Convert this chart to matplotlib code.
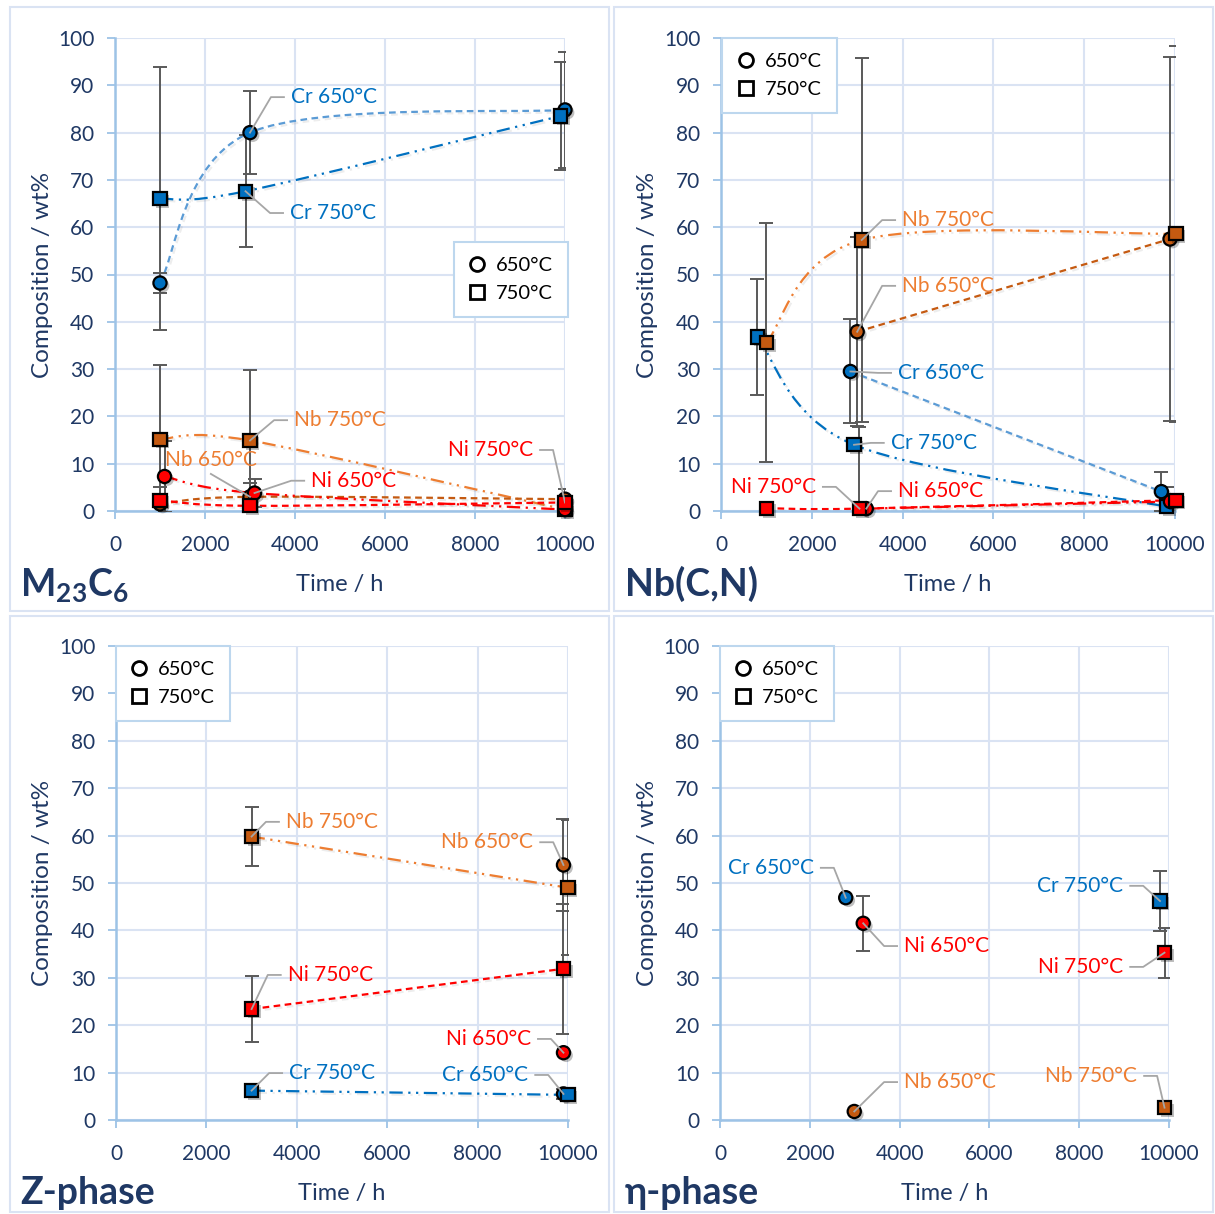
import numpy as np
import matplotlib
matplotlib.use('Agg')
import matplotlib.pyplot as plt
from matplotlib.lines import Line2D
from matplotlib.path import Path
from matplotlib.patches import PathPatch, Rectangle
import matplotlib.patheffects as pe

plt.rcParams['font.family'] = ['Lato', 'DejaVu Sans']
plt.rcParams['mathtext.fontset'] = 'custom'
plt.rcParams['mathtext.rm'] = 'Lato:bold'
plt.rcParams['mathtext.bf'] = 'Lato:bold'
plt.rcParams['mathtext.it'] = 'Lato:bold'

# ---- M23C6 ----
m23_cr650_t = [1000, 3000, 10000]
m23_cr650 = [48.2, 80.0, 84.8]
m23_cr650_err = [2.2, 8.8, 12.2]
m23_cr750_t = [1000, 2900, 9900]
m23_cr750 = [66.0, 67.6, 83.5]
m23_cr750_err = [27.8, 11.8, 11.4]
m23_nb650_t = [1000, 3000, 10000]
m23_nb650 = [1.5, 3.0, 2.5]
m23_nb650_err = [0, 2.9, 0]
m23_nb750_t = [1000, 3000, 10000]
m23_nb750 = [15.2, 14.9, 0.3]
m23_nb750_err = [15.6, 15.0, 0]
m23_ni650_t = [1100, 3100, 10000]
m23_ni650 = [7.3, 3.8, 0.3]
m23_ni650_err = [7.5, 3.0, 0]
m23_ni750_t = [1000, 3000, 10000]
m23_ni750 = [2.3, 1.1, 1.8]
m23_ni750_err = [2.8, 0, 2.8]

# ---- Nb(C,N) ----
nbc_cr650_t = [2850, 9700]
nbc_cr650 = [29.5, 4.1]
nbc_cr650_err = [11.0, 4.1]
nbc_cr750_t = [800, 2930, 9820]
nbc_cr750 = [36.8, 14.0, 0.9]
nbc_cr750_err = [12.3, 0, 4.2]
nbc_nb650_t = [3000, 9890]
nbc_nb650 = [37.9, 57.5]
nbc_nb650_err = [20.0, 38.5]
nbc_nb750_t = [1000, 3100, 10020]
nbc_nb750 = [35.6, 57.3, 58.6]
nbc_nb750_err = [25.3, 38.4, 39.8]
nbc_ni650_t = [3200, 9900]
nbc_ni650 = [0.5, 2.0]
nbc_ni650_err = [0, 0]
nbc_ni750_t = [1000, 3050, 10020]
nbc_ni750 = [0.6, 0.5, 2.3]
nbc_ni750_err = [0, 17.3, 0]

# ---- Z-phase ----
z_cr650_t = [9900]
z_cr650 = [5.5]
z_cr650_err = [1.0]
z_cr750_t = [3000, 10000]
z_cr750 = [6.2, 5.3]
z_cr750_err = [0, 0]
z_nb650_t = [9900]
z_nb650 = [53.8]
z_nb650_err = [9.7]
z_nb750_t = [3000, 10000]
z_nb750 = [59.8, 49.0]
z_nb750_err = [6.2, 14.2]
z_ni650_t = [9900]
z_ni650 = [14.2]
z_ni650_err = [0]
z_ni750_t = [3000, 9900]
z_ni750 = [23.4, 31.9]
z_ni750_err = [7.0, 13.7]

# ---- eta-phase ----
e_cr650_t = [2800]
e_cr650 = [46.9]
e_cr650_err = [0]
e_cr750_t = [9800]
e_cr750 = [46.2]
e_cr750_err = [6.4]
e_nb650_t = [2990]
e_nb650 = [1.8]
e_nb650_err = [0]
e_nb750_t = [9900]
e_nb750 = [2.6]
e_nb750_err = [0]
e_ni650_t = [3190]
e_ni650 = [41.5]
e_ni650_err = [5.8]
e_ni750_t = [9900]
e_ni750 = [35.3]
e_ni750_err = [5.3]

CR = '#0070C0'
CR_L = '#5B9BD5'
NB = '#C55A11'
NB_L = '#ED7D31'
NI = '#FF0000'
NAVY = '#1F3864'
GRID = '#DAE3F3'
SPINE = '#9DC3E6'
ERR = '#595959'
LEAD = '#A6A6A6'

DASH = (0, (3, 2))
DADODO = (0, (6, 2.5, 1, 2.5, 1, 2.5))

# style per series: marker, face colour, line colour, line style
STY = {
    'cr650': ('o', CR, CR_L, DASH),
    'cr750': ('s', CR, CR, DADODO),
    'nb650': ('o', NB, NB, DASH),
    'nb750': ('s', NB, NB_L, DADODO),
    'ni650': ('o', NI, NI, DADODO),
    'ni750': ('s', NI, NI, DASH),
}

W, H = 1215, 1214
fig = plt.figure(figsize=(W / 100, H / 100), dpi=100)
fig.patch.set_facecolor('white')


def px_axes(l, r, t, b):
    return fig.add_axes([l / W, 1 - b / H, (r - l) / W, (b - t) / H])


def smooth_path(ax, xs, ys):
    pts = ax.transData.transform(np.column_stack([xs, ys]))
    n = len(pts)
    verts = [pts[0]]
    codes = [Path.MOVETO]
    for i in range(n - 1):
        p0 = pts[i - 1] if i > 0 else pts[i]
        p1 = pts[i]
        p2 = pts[i + 1]
        p3 = pts[i + 2] if i + 2 < n else pts[i + 1]
        verts += [p1 + (p2 - p0) / 6, p2 - (p3 - p1) / 6, p2]
        codes += [Path.CURVE4] * 3
    verts = ax.transData.inverted().transform(np.array(verts))
    return Path(verts, codes)


def setup(ax):
    ax.set_xlim(0, 10000)
    ax.set_ylim(0, 100)
    ax.set_xticks(range(0, 10001, 2000))
    ax.set_yticks(range(0, 101, 10))
    ax.grid(True, color=GRID, lw=1.5, zorder=0)
    ax.set_axisbelow(True)
    for s in ['top', 'right']:
        ax.spines[s].set_visible(False)
    for s in ['left', 'bottom']:
        ax.spines[s].set_color(SPINE)
        ax.spines[s].set_linewidth(1.8)
    ax.tick_params(direction='out', length=6, width=1.3, color=SPINE,
                   labelcolor=NAVY, labelsize=15, pad=9)
    ax.tick_params(axis='x', pad=11)
    ax.text(0.5, -0.156, 'Time / h', transform=ax.transAxes, ha='center',
            va='center', fontsize=17, color=NAVY)
    ax.text(-0.162, 0.5, 'Composition / wt%', transform=ax.transAxes,
            ha='center', va='center', rotation=90, fontsize=17.5, color=NAVY)


def draw_series(ax, series):
    shadow_l = [pe.SimpleLineShadow(offset=(1.5, -1.5), shadow_color='k', alpha=0.07), pe.Normal()]
    shadow_m = [pe.SimplePatchShadow(offset=(2, -2), shadow_rgbFace='k', alpha=0.25), pe.Normal()]
    for key, t, y, err in series:
        mk, fc, lc, ls = STY[key]
        if len(t) > 1:
            ax.add_patch(PathPatch(smooth_path(ax, t, y), fill=False, edgecolor=lc,
                                   lw=1.6, linestyle=ls, zorder=2, path_effects=shadow_l))
        ax.errorbar(t, y, yerr=err, fmt='none', ecolor=ERR, elinewidth=1.4,
                    capsize=5, capthick=1.4, zorder=3)
    for key, t, y, err in series:
        mk, fc, lc, ls = STY[key]
        ax.plot(t, y, ls='none', marker=mk, ms=9.5, mfc=fc, mec='black', mew=1.6,
                zorder=4, clip_on=False, path_effects=shadow_m)


def draw_labels(ax, labels):
    inv = ax.transData.inverted()
    for txt, col, tx, ty, ha, x, y in labels:
        ax.text(tx, ty, txt, color=col, fontsize=15, ha=ha, va='center', zorder=6)
        X, Y = ax.transData.transform((tx, ty))
        if ha == 'left':
            a, b = (X - 7, Y), (X - 20, Y)
        elif ha == 'right':
            a, b = (X + 7, Y), (X + 20, Y)
        else:
            a = b = (X, Y - 14)
        pts = inv.transform([a, b, ax.transData.transform((x, y))])
        ax.plot(pts[:, 0], pts[:, 1], color=LEAD, lw=1.3, zorder=5)


def legend(ax, x, y):
    h = [Line2D([], [], ls='none', marker='o', ms=10, mfc='white', mec='black', mew=2),
         Line2D([], [], ls='none', marker='s', ms=10, mfc='white', mec='black', mew=2)]
    lg = ax.legend(h, ['650°C', '750°C'], loc='upper left', bbox_to_anchor=(x, y),
                   borderaxespad=0, fontsize=14.5, handlelength=0.8, handletextpad=0.55,
                   borderpad=0.75, labelspacing=0.55, fancybox=False, framealpha=1)
    lg.get_frame().set_edgecolor('#BDD7EE')
    lg.get_frame().set_linewidth(1.5)
    lg.set_zorder(7)


# panel frames
for l, t, r, b in [(10, 7, 609, 611), (614, 7, 1213, 611), (10, 616, 609, 1212), (614, 616, 1213, 1212)]:
    fig.add_artist(Rectangle((l / W, 1 - b / H), (r - l) / W, (b - t) / H,
                             transform=fig.transFigure, fill=False, ec=GRID, lw=1.5))

# ---- panel 1: M23C6 ----
ax1 = px_axes(115, 565, 38, 511)
setup(ax1)
draw_series(ax1, [
    ('cr650', m23_cr650_t, m23_cr650, m23_cr650_err),
    ('cr750', m23_cr750_t, m23_cr750, m23_cr750_err),
    ('nb750', m23_nb750_t, m23_nb750, m23_nb750_err),
    ('nb650', m23_nb650_t, m23_nb650, m23_nb650_err),
    ('ni650', m23_ni650_t, m23_ni650, m23_ni650_err),
    ('ni750', m23_ni750_t, m23_ni750, m23_ni750_err),
])
draw_labels(ax1, [
    ('Cr 650°C', CR, 3910, 87.5, 'left', m23_cr650_t[1], m23_cr650[1]),
    ('Cr 750°C', CR, 3890, 63.0, 'left', m23_cr750_t[1], m23_cr750[1]),
    ('Nb 750°C', NB_L, 3980, 19.2, 'left', m23_nb750_t[1], m23_nb750[1]),
    ('Nb 650°C', NB_L, 2130, 10.8, 'center', m23_nb650_t[1], m23_nb650[1]),
    ('Ni 650°C', NI, 4360, 6.4, 'left', m23_ni650_t[1], m23_ni650[1]),
    ('Ni 750°C', NI, 9290, 12.9, 'right', m23_ni750_t[2], m23_ni750[2]),
])
legend(ax1, 0.753, 0.569)
fig.text(20 / W, 1 - 596 / H, r'$\mathbf{M_{23}C_6}$', fontsize=27, color=NAVY, va='baseline')

# ---- panel 2: Nb(C,N) ----
ax2 = px_axes(721, 1175, 38, 511)
setup(ax2)
draw_series(ax2, [
    ('cr650', nbc_cr650_t, nbc_cr650, nbc_cr650_err),
    ('cr750', nbc_cr750_t, nbc_cr750, nbc_cr750_err),
    ('nb650', nbc_nb650_t, nbc_nb650, nbc_nb650_err),
    ('nb750', nbc_nb750_t, nbc_nb750, nbc_nb750_err),
    ('ni650', nbc_ni650_t, nbc_ni650, nbc_ni650_err),
    ('ni750', nbc_ni750_t, nbc_ni750, nbc_ni750_err),
])
draw_labels(ax2, [
    ('Nb 750°C', NB_L, 3990, 61.5, 'left', nbc_nb750_t[1], nbc_nb750[1]),
    ('Nb 650°C', NB_L, 3990, 47.6, 'left', nbc_nb650_t[0], nbc_nb650[0]),
    ('Cr 650°C', CR, 3900, 29.2, 'left', nbc_cr650_t[0], nbc_cr650[0]),
    ('Cr 750°C', CR, 3740, 14.4, 'left', nbc_cr750_t[1], nbc_cr750[1]),
    ('Ni 750°C', NI, 2090, 5.1, 'right', nbc_ni750_t[1], nbc_ni750[1]),
    ('Ni 650°C', NI, 3900, 4.2, 'left', nbc_ni650_t[0], nbc_ni650[0]),
])
legend(ax2, 0.003, 1.0)
fig.text(625 / W, 1 - 596 / H, 'Nb(C,N)', fontsize=27, fontweight='bold', color=NAVY, va='baseline')

# ---- panel 3: Z-phase ----
ax3 = px_axes(116, 568, 646, 1120)
setup(ax3)
draw_series(ax3, [
    ('nb750', z_nb750_t, z_nb750, z_nb750_err),
    ('nb650', z_nb650_t, z_nb650, z_nb650_err),
    ('ni750', z_ni750_t, z_ni750, z_ni750_err),
    ('ni650', z_ni650_t, z_ni650, z_ni650_err),
    ('cr650', z_cr650_t, z_cr650, z_cr650_err),
    ('cr750', z_cr750_t, z_cr750, z_cr750_err),
])
draw_labels(ax3, [
    ('Nb 750°C', NB_L, 3760, 62.9, 'left', z_nb750_t[0], z_nb750[0]),
    ('Nb 650°C', NB_L, 9230, 58.6, 'right', z_nb650_t[0], z_nb650[0]),
    ('Ni 750°C', NI, 3800, 30.6, 'left', z_ni750_t[0], z_ni750[0]),
    ('Ni 650°C', NI, 9180, 17.1, 'right', z_ni650_t[0], z_ni650[0]),
    ('Cr 750°C', CR, 3830, 9.9, 'left', z_cr750_t[0], z_cr750[0]),
    ('Cr 650°C', CR, 9120, 9.5, 'right', z_cr650_t[0], z_cr650[0]),
])
legend(ax3, 0.0, 1.0)
fig.text(20 / W, 1 - 1204 / H, 'Z-phase', fontsize=27, fontweight='bold', color=NAVY, va='baseline')

# ---- panel 4: eta-phase ----
ax4 = px_axes(720, 1169, 646, 1120)
setup(ax4)
draw_series(ax4, [
    ('cr650', e_cr650_t, e_cr650, e_cr650_err),
    ('ni650', e_ni650_t, e_ni650, e_ni650_err),
    ('nb650', e_nb650_t, e_nb650, e_nb650_err),
    ('cr750', e_cr750_t, e_cr750, e_cr750_err),
    ('ni750', e_ni750_t, e_ni750, e_ni750_err),
    ('nb750', e_nb750_t, e_nb750, e_nb750_err),
])
draw_labels(ax4, [
    ('Cr 650°C', CR, 2090, 53.2, 'right', e_cr650_t[0], e_cr650[0]),
    ('Ni 650°C', NI, 4100, 36.7, 'left', e_ni650_t[0], e_ni650[0]),
    ('Nb 650°C', NB_L, 4100, 8.0, 'left', e_nb650_t[0], e_nb650[0]),
    ('Cr 750°C', CR, 8980, 49.4, 'right', e_cr750_t[0], e_cr750[0]),
    ('Ni 750°C', NI, 8980, 32.3, 'right', e_ni750_t[0], e_ni750[0]),
    ('Nb 750°C', NB_L, 9290, 9.3, 'right', e_nb750_t[0], e_nb750[0]),
])
legend(ax4, 0.0, 1.0)
fig.text(625 / W, 1 - 1204 / H, 'η-phase', fontsize=27, fontweight='bold', color=NAVY, va='baseline')

fig.savefig('out.png', dpi=100, facecolor='white')
